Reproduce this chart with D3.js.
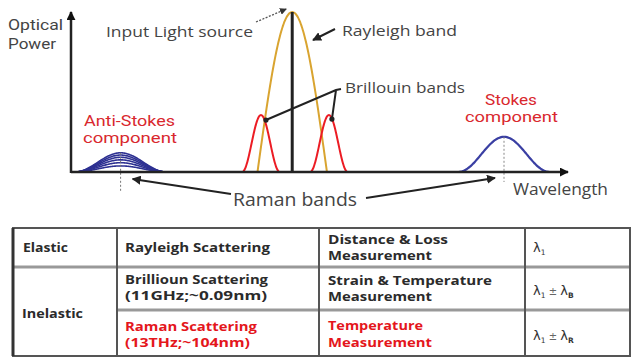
<!DOCTYPE html>
<html>
<head>
<meta charset="utf-8">
<script src="https://cdn.jsdelivr.net/npm/d3@7/dist/d3.min.js"></script>
<style>
  html, body { margin: 0; padding: 0; background: #fff; }
  svg { display: block; font-family: "Open Sans", "Noto Sans", sans-serif; }
</style>
</head>
<body>
<svg id="chart" width="632" height="358"></svg>
<script>
// ---------------- DATA ----------------
const bandNames      = ["Anti-Stokes", "Brillouin (anti-Stokes)", "Rayleigh", "Brillouin (Stokes)", "Stokes"];
const bandCenters    = [10, 38.3, 44.6, 52.0, 87.3];      // relative wavelength
const bandHalfWidths = [9.3, 3.8, 7.0, 3.8, 9.2];
const bandPeaks      = [12, 35.6, 100, 35.6, 22];          // relative optical power
const antiStokesLevels = [12, 10.6, 9.2, 7.6, 5.8, 3.8];   // stacked anti-Stokes traces
const sourceLevel = 100;

const scatterTypes  = ["Elastic", "Inelastic"];
const scatterNames  = ["Rayleigh Scattering", "Brillioun Scattering", "Raman Scattering"];
const scatterShifts = ["", "(11GHz;~0.09nm)", "(13THz;~104nm)"];
const applications  = [["Distance & Loss", "Measurement"], ["Strain & Temperature", "Measurement"], ["Temperature", "Measurement"]];
const wavelengthSub = [null, "B", "R"];

// ---------------- STYLE ----------------
const bandStyle = {
  "Anti-Stokes":             { color: "#2e3192", shape: "hann", width: 1.6 },
  "Brillouin (anti-Stokes)": { color: "#ec1c24", shape: "hann", width: 2 },
  "Rayleigh":                { color: "#d9a430", shape: "cos",  width: 2 },
  "Brillouin (Stokes)":      { color: "#ec1c24", shape: "hann", width: 2 },
  "Stokes":                  { color: "#3a3fa3", shape: "hann", width: 2.2 }
};
const textGray = "#444";
const redLabel = "#d9282e";

const svg = d3.select("#chart");
const x = d3.scaleLinear().domain([0, 100]).range([71, 567]);
const y = d3.scaleLinear().domain([0, 100]).range([172, 12]);

const defs = svg.append("defs");
function marker(id, color, size) {
  defs.append("marker").attr("id", id).attr("viewBox", "0 0 10 10")
    .attr("refX", 9).attr("refY", 5).attr("markerWidth", size).attr("markerHeight", size)
    .attr("markerUnits", "userSpaceOnUse").attr("orient", "auto")
    .append("path").attr("d", "M0,0 L10,5 L0,10 Z").attr("fill", color);
}
marker("arr", "#222", 9);
marker("arrS", "#333", 7);
marker("arrAx", "#111", 9);

function shapeFn(kind, t) {
  const c = Math.cos(Math.PI / 2 * t);
  return kind === "cos" ? c : c * c;
}
function bandPoints(center, hw, peak, kind) {
  return d3.range(-1, 1.0001, 0.02).map(t => [center + t * hw, peak * shapeFn(kind, Math.min(1, Math.abs(t)))]);
}
const line = d3.line().x(d => x(d[0])).y(d => y(d[1])).curve(d3.curveBasis);

// ---------------- CHART ----------------
const g = svg.append("g");

// anti-Stokes stacked traces
const ai = bandNames.indexOf("Anti-Stokes");
g.selectAll("path.as").data(antiStokesLevels).join("path")
  .attr("class", "as")
  .attr("d", lv => line(bandPoints(bandCenters[ai], bandHalfWidths[ai], lv, "hann")))
  .attr("fill", "none").attr("stroke", bandStyle["Anti-Stokes"].color)
  .attr("stroke-width", bandStyle["Anti-Stokes"].width);

// other bands (Rayleigh first)
const order = ["Rayleigh", "Brillouin (anti-Stokes)", "Brillouin (Stokes)", "Stokes"];
g.selectAll("path.band").data(order).join("path")
  .attr("class", "band")
  .attr("d", n => {
    const i = bandNames.indexOf(n);
    return line(bandPoints(bandCenters[i], bandHalfWidths[i], bandPeaks[i], bandStyle[n].shape));
  })
  .attr("fill", "none")
  .attr("stroke", n => bandStyle[n].color)
  .attr("stroke-width", n => bandStyle[n].width);

// dashed center lines of Raman bands
const si = bandNames.indexOf("Stokes");
g.append("line").attr("x1", x(bandCenters[ai])).attr("x2", x(bandCenters[ai]))
  .attr("y1", y(bandPeaks[ai])).attr("y2", y(0) + 20)
  .attr("stroke", "#777").attr("stroke-width", 1).attr("stroke-dasharray", "2,2");
g.append("line").attr("x1", x(bandCenters[si])).attr("x2", x(bandCenters[si]))
  .attr("y1", y(bandPeaks[si])).attr("y2", y(0) + 10)
  .attr("stroke", "#888").attr("stroke-width", 1).attr("stroke-dasharray", "2,2");

// input light source line
const ri = bandNames.indexOf("Rayleigh");
g.append("line").attr("x1", x(bandCenters[ri])).attr("x2", x(bandCenters[ri]))
  .attr("y1", y(sourceLevel)).attr("y2", y(0))
  .attr("stroke", "#222").attr("stroke-width", 3);

// axes
g.append("line").attr("x1", x(0)).attr("x2", x(100) + 1).attr("y1", y(0)).attr("y2", y(0))
  .attr("stroke", "#222").attr("stroke-width", 2.5).attr("marker-end", "url(#arrAx)");
g.append("line").attr("x1", x(0)).attr("x2", x(0)).attr("y1", y(0) + 1).attr("y2", y(100))
  .attr("stroke", "#222").attr("stroke-width", 2.5).attr("marker-end", "url(#arrAx)");

// ---------------- ANNOTATIONS ----------------
function label(txt, px, py, size, color, len, weight) {
  return g.append("text").attr("x", px).attr("y", py).text(txt)
    .attr("font-size", size).attr("fill", color).attr("font-weight", weight || 400)
    .attr("textLength", len).attr("lengthAdjust", "spacingAndGlyphs");
}
// two-line label as a single text element (compact-metric font so lines don't collide)
function label2(lines, size, color) {
  const t = g.append("text").attr("font-size", size).attr("fill", color)
    .attr("font-family", "Roboto, 'Open Sans', sans-serif");
  lines.forEach(l => t.append("tspan").attr("x", l.x).attr("y", l.y).text(l.t)
    .attr("textLength", l.len).attr("lengthAdjust", "spacingAndGlyphs"));
  return t;
}
label2([{ t: "Optical", x: 8, y: 30, len: 55 }, { t: "Power", x: 8, y: 49, len: 48 }], 14, textGray);
label("Input Light source", 106, 37, 14.5, textGray, 147);
label("Rayleigh band", 342, 36, 15, textGray, 115);
label("Brillouin bands", 345, 93, 15, textGray, 120);
label2([{ t: "Anti-Stokes", x: 84, y: 126, len: 91 }, { t: "component", x: 83, y: 143, len: 94 }], 14.5, redLabel);
label2([{ t: "Stokes", x: 485, y: 105, len: 52 }, { t: "component", x: 465, y: 122, len: 93 }], 14.5, redLabel);
label("Wavelength", 513, 195, 16, textGray, 95);
label("Raman bands", 233, 206, 18, textGray, 124);

// input light source dashed arrow
g.append("line").attr("x1", 256).attr("y1", 22).attr("x2", x(bandCenters[ri]) - 6).attr("y2", y(sourceLevel) - 3)
  .attr("stroke", "#555").attr("stroke-width", 1.3).attr("stroke-dasharray", "2,1.5")
  .attr("marker-end", "url(#arrS)");
// Rayleigh band arrow
g.append("line").attr("x1", 335).attr("y1", 29).attr("x2", 313).attr("y2", 40)
  .attr("stroke", "#222").attr("stroke-width", 2).attr("marker-end", "url(#arr)");
// Brillouin bracket
const bl = bandNames.indexOf("Brillouin (anti-Stokes)");
const br = bandNames.indexOf("Brillouin (Stokes)");
g.append("path")
  .attr("d", `M${x(bandCenters[bl]) + 5},${y(bandPeaks[bl]) + 5} L336,90 L341,89 M336,90 L${x(bandCenters[br]) + 3},${y(bandPeaks[br]) + 4}`)
  .attr("fill", "none").attr("stroke", "#222").attr("stroke-width", 2);
g.selectAll("circle.bd").data([[x(bandCenters[bl]) + 5, y(bandPeaks[bl]) + 5], [x(bandCenters[br]) + 3, y(bandPeaks[br]) + 4]])
  .join("circle").attr("class", "bd").attr("cx", d => d[0]).attr("cy", d => d[1]).attr("r", 2.6).attr("fill", "#222");
// Raman arrows
g.append("line").attr("x1", 231).attr("y1", 194).attr("x2", x(bandCenters[ai]) + 12).attr("y2", y(0) + 7)
  .attr("stroke", "#222").attr("stroke-width", 2).attr("marker-end", "url(#arr)");
g.append("line").attr("x1", 366).attr("y1", 198).attr("x2", x(bandCenters[si]) - 9).attr("y2", y(0) + 6)
  .attr("stroke", "#222").attr("stroke-width", 2).attr("marker-end", "url(#arr)");

// ---------------- TABLE ----------------
const T = { left: 13, right: 630, top: 228, rows: [228, 267, 310, 356], cols: [13, 117, 319, 525] };
const tg = svg.append("g");
// horizontal inner lines
tg.selectAll("line.h").data([T.rows[1]]).join("line")
  .attr("x1", T.left).attr("x2", T.right).attr("y1", d => d).attr("y2", d => d)
  .attr("stroke", "#999").attr("stroke-width", 3);
tg.selectAll("line.h2").data([T.rows[2]]).join("line")
  .attr("x1", T.cols[1]).attr("x2", T.right).attr("y1", d => d).attr("y2", d => d)
  .attr("stroke", "#999").attr("stroke-width", 3);
// verticals
tg.selectAll("line.v").data(T.cols.slice(1)).join("line")
  .attr("x1", d => d).attr("x2", d => d).attr("y1", T.rows[0]).attr("y2", T.rows[3])
  .attr("stroke", "#555").attr("stroke-width", 2);
// outer box
tg.append("rect").attr("x", T.left).attr("y", T.rows[0]).attr("width", T.right - T.left).attr("height", T.rows[3] - T.rows[0])
  .attr("fill", "none").attr("stroke", "#555").attr("stroke-width", 2);
tg.append("line").attr("x1", T.left).attr("x2", T.left).attr("y1", T.rows[0]).attr("y2", T.rows[3])
  .attr("stroke", "#333").attr("stroke-width", 3);

const tcol = "#2b2b2b", tred = "#e4161c";
function ttext(txt, px, py, color, len) {
  return tg.append("text").attr("x", px).attr("y", py).text(txt)
    .attr("font-size", 12.5).attr("font-weight", 700).attr("fill", color)
    .attr("textLength", len).attr("lengthAdjust", "spacingAndGlyphs");
}
// type column
ttext(scatterTypes[0], 23, 252, tcol, 45);
ttext(scatterTypes[1], 22, 318, tcol, 61);
// scattering column
const nameLens = [145, 143, 132], shiftLens = [0, 142, 125];
const nameY = [252, 284, 331], shiftY = [0, 300, 347];
scatterNames.forEach((n, i) => {
  const c = i === 2 ? tred : tcol;
  ttext(n, 125, nameY[i], c, nameLens[i]);
  if (scatterShifts[i]) ttext(scatterShifts[i], 125, shiftY[i], c, shiftLens[i]);
});
// application column
const appLens = [[120, 104], [164, 104], [95, 104]];
const appY = [[244, 260], [285, 301], [330, 347]];
applications.forEach((a, i) => {
  const c = i === 2 ? tred : tcol;
  a.forEach((s, j) => ttext(s, 328, appY[i][j], c, appLens[i][j]));
});
// wavelength column
const wlY = [252, 295, 340];
wavelengthSub.forEach((sub, i) => {
  const t = tg.append("text").attr("x", 533).attr("y", wlY[i]).attr("font-size", 13).attr("fill", "#333")
    .attr("font-family", "DejaVu Sans, sans-serif");
  t.append("tspan").text("λ");
  t.append("tspan").text("1").attr("font-size", 7.5).attr("dy", 3);
  if (sub) {
    t.append("tspan").text(" ± ").attr("dy", -3).attr("font-size", 10).attr("fill", "#666");
    t.append("tspan").text("λ");
    t.append("tspan").text(sub).attr("font-size", 7.5).attr("dy", 3).attr("font-weight", 700);
  }
});
</script>
</body>
</html>
